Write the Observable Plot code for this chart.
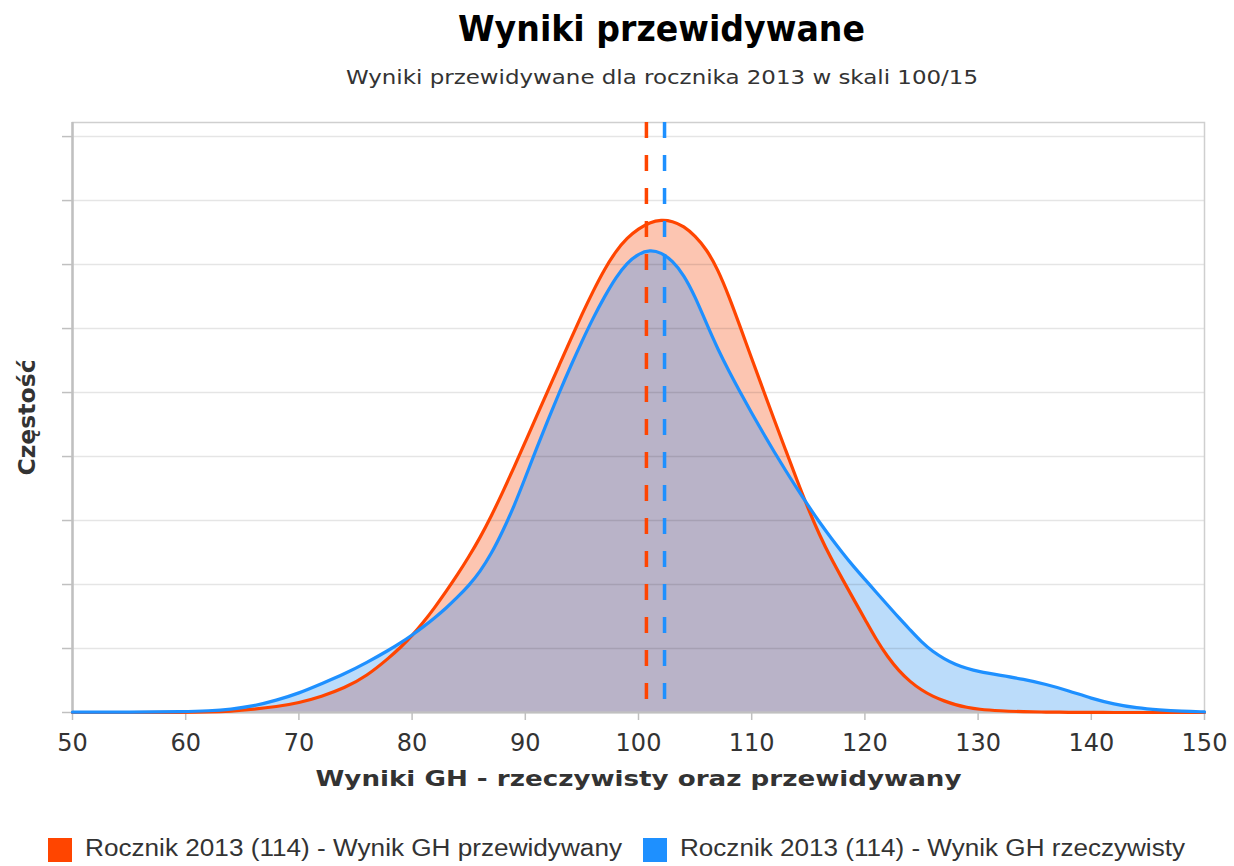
<!DOCTYPE html>
<html><head><meta charset="utf-8">
<script src="https://cdn.jsdelivr.net/npm/d3@7"></script>
<script src="https://cdn.jsdelivr.net/npm/@observablehq/plot@0.6"></script>
<style>
html,body{margin:0;padding:0;background:#fff}
body{width:1234px;height:866px;position:relative;overflow:hidden;font-family:"DejaVu Sans",sans-serif}
.t{position:absolute;white-space:nowrap;line-height:1;transform-origin:0 0}
#title{font-weight:bold;font-size:36px;color:#000}
#subtitle{font-size:19px;color:#333}
#chart{position:absolute;left:0;top:100px}
.sw{position:absolute;width:24px;height:24px}
.lg{font-family:"Liberation Sans",Arial,sans-serif;font-size:23px;color:#333}
</style></head>
<body>
<div id="title" class="t">Wyniki przewidywane</div>
<div id="subtitle" class="t">Wyniki przewidywane dla rocznika 2013 w skali 100/15</div>
<div id="chart"></div>
<div id="legend"></div>
<script>
// ---- data ----
const xValues = [50,55,60,62,64,66,68,70,72,74,76,78,79,80,81,82,83,84,85,86,87,88,89,90,91,92,93,94,95,96,97,98,99,100,101,102,103,104,105,106,107,108,109,110,111,112,113,114,115,116,117,118,119,120,121,122,123,124,125,126,127,128,129,130,132,134,136,138,140,142,144,146,148,150];
const predicted = [0,0,0.002,0.006,0.02,0.05,0.09,0.15,0.25,0.38,0.57,0.86,1.02,1.2,1.41,1.64,1.89,2.15,2.43,2.73,3.07,3.44,3.83,4.23,4.63,5.03,5.43,5.83,6.22,6.59,6.93,7.21,7.42,7.56,7.66,7.7,7.68,7.6,7.45,7.24,6.93,6.5,6.02,5.53,5.05,4.57,4.1,3.63,3.18,2.77,2.41,2.09,1.77,1.46,1.14,0.87,0.65,0.48,0.35,0.25,0.18,0.12,0.08,0.05,0.025,0.012,0.006,0.003,0.001,0,0,0,0,0];
const actual = [0.005,0.006,0.012,0.025,0.05,0.1,0.19,0.3,0.45,0.6,0.78,0.98,1.09,1.21,1.34,1.48,1.63,1.8,1.98,2.2,2.48,2.83,3.22,3.67,4.13,4.57,5.0,5.41,5.8,6.17,6.5,6.8,7.03,7.17,7.23,7.19,7.06,6.84,6.5,6.08,5.68,5.33,5.0,4.68,4.37,4.07,3.78,3.5,3.23,2.97,2.73,2.5,2.28,2.08,1.88,1.68,1.48,1.29,1.1,0.95,0.84,0.75,0.69,0.64,0.58,0.52,0.44,0.34,0.22,0.13,0.07,0.04,0.02,0.01];
const meanPredicted = [100.7];
const meanActual = [102.3];
const seriesNames = ["Rocznik 2013 (114) - Wynik GH przewidywany", "Rocznik 2013 (114) - Wynik GH rzeczywisty"];
const seriesColors = ["#ff4500", "#1e90ff"];
const xTicks = [50,60,70,80,90,100,110,120,130,140,150];
const yTicks = [0,1,2,3,4,5,6,7,8,9];
const yMax = 9.22;
const xTitle = "Wyniki GH - rzeczywisty oraz przewidywany";
const yTitle = "Częstość";

const rows = xValues.map((x, i) => ({x, pred: predicted[i], act: actual[i], low: Math.min(predicted[i], actual[i])}));
const curve = "basis";

const plot = Plot.plot({
  width: 1234, height: 720,
  marginLeft: 72, marginRight: 30, marginTop: 22, marginBottom: 108,
  style: {fontFamily: '"DejaVu Sans", sans-serif', background: "#fff", overflow: "visible"},
  x: {domain: [50, 150]},
  y: {domain: [0, yMax]},
  marks: [
    Plot.areaY(rows, {x: "x", y1: 0, y2: "act", fill: "#bbdcfa", curve}),
    Plot.areaY(rows, {x: "x", y1: 0, y2: "pred", fill: "#fcc5b1", curve}),
    Plot.areaY(rows, {x: "x", y1: 0, y2: "low", fill: "#b9b3c8", curve}),
    Plot.ruleY(yTicks.slice(1), {stroke: "#000", strokeOpacity: 0.1, strokeWidth: 1.5}),
    Plot.frame({stroke: "#cfcfcf", strokeWidth: 1.5}),
    Plot.axisY({ticks: yTicks, tickSize: 10, tickFormat: () => "", stroke: "#c0c0c0", strokeWidth: 1.5, label: null}),
    Plot.axisX({ticks: xTicks, tickSize: 8, tickPadding: 13, stroke: "#c0c0c0", strokeWidth: 1.5, fontSize: 24, fill: "#333", label: null}),
    Plot.ruleX([50], {stroke: "#c0c0c0", strokeWidth: 2.5}),
    Plot.ruleY([0], {stroke: "#c0c0c0", strokeWidth: 2}),
    Plot.line(rows, {x: "x", y: "pred", stroke: seriesColors[0], strokeWidth: 3.2, curve}),
    Plot.line(rows, {x: "x", y: "act", stroke: seriesColors[1], strokeWidth: 3.2, curve}),
    Plot.ruleX(meanPredicted, {x: d => d, y1: yMax, y2: 0, stroke: seriesColors[0], strokeWidth: 3.5, strokeDasharray: "16,17"}),
    Plot.ruleX(meanActual, {x: d => d, y1: yMax, y2: 0, stroke: seriesColors[1], strokeWidth: 3.5, strokeDasharray: "16,17"}),
    Plot.text([xTitle], {frameAnchor: "bottom", dy: 73, fontSize: 21, fontWeight: "bold", fill: "#333", className: "xtitle"}),
    Plot.text([yTitle], {frameAnchor: "left", textAnchor: "middle", dx: -45, rotate: -90, fontSize: 23.5, fontWeight: "bold", fill: "#333"})
  ]
});
document.getElementById("chart").appendChild(plot);

// fit x axis title to the reference width
plot.querySelectorAll(".xtitle text").forEach(t => {
  t.setAttribute("textLength", 646);
  t.setAttribute("lengthAdjust", "spacingAndGlyphs");
});

// legend
const legend = document.getElementById("legend");
const legendPos = [{sx: 48, tx: 85, w: 537}, {sx: 643, tx: 680, w: 505}];
seriesNames.forEach((name, i) => {
  const sw = document.createElement("div");
  sw.className = "sw";
  sw.style.left = legendPos[i].sx + "px";
  sw.style.top = "838px";
  sw.style.background = seriesColors[i];
  legend.appendChild(sw);
  const tx = document.createElement("div");
  tx.className = "t lg";
  tx.textContent = name;
  tx.style.left = legendPos[i].tx + "px";
  tx.dataset.w = legendPos[i].w;
  legend.appendChild(tx);
});

// fit HTML text widths
function fitHtml(el, left, width, top) {
  el.style.left = left + "px";
  el.style.top = top + "px";
  const w = el.getBoundingClientRect().width;
  el.style.transform = "scaleX(" + (width / w) + ")";
}
fitHtml(document.getElementById("title"), 458, 407, 11);
fitHtml(document.getElementById("subtitle"), 346, 632, 68);
document.querySelectorAll(".lg").forEach(el => fitHtml(el, +el.style.left.replace("px",""), +el.dataset.w, 837));
</script>
</body></html>
